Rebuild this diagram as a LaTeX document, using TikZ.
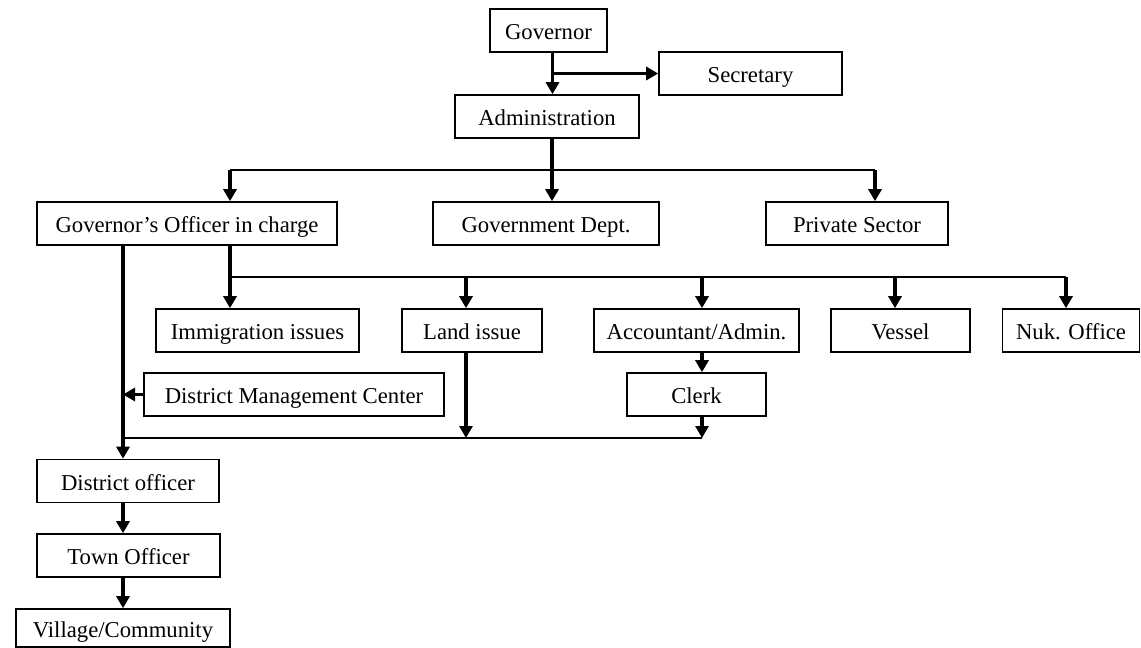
\documentclass[tikz,border=0pt]{standalone}
\usepackage{fontspec}
\setmainfont{Liberation Serif}
\usetikzlibrary{arrows.meta,calc}
\begin{document}
\begin{tikzpicture}[x=1pt,y=-1pt,
  box/.style={draw, line width=1.6pt, minimum height=43pt, inner sep=0pt,
    text height=18pt, text depth=0pt,
    font=\fontsize{22.7}{26}\selectfont},
  arr/.style={line width=3.4pt, -{Triangle[width=13pt,length=12pt]}},
  thinline/.style={line width=1.8pt}]
\useasboundingbox (0,0) rectangle (1141,648);
% nodes
\node[box, minimum width=117pt] (gov) at (548.5,30.5) {Governor};
\node[box, minimum width=183pt] (sec) at (750.5,73.5) {Secretary};
\node[box, minimum width=184pt] (adm) at (547,116.5) {Administration};
\node[box, minimum width=300pt] (goc) at (187,223.5) {Governor’s Officer in charge};
\node[box, minimum width=226pt] (gdept) at (546,223.5) {Government Dept.};
\node[box, minimum width=182pt] (priv) at (857,223.5) {Private Sector};
\node[box, minimum width=203pt] (imm) at (257.5,330.5) {Immigration issues};
\node[box, minimum width=140pt] (land) at (472,330.5) {Land issue};
\node[box, minimum width=205pt] (acct) at (696.5,330.5) {Accountant/Admin.};
\node[box, minimum width=139pt] (vessel) at (900.5,330.5) {Vessel};
\node[box, minimum width=137pt] (nuk) at (1071,330.5) {Nuk. Office};
\node[box, minimum width=139pt] (clerk) at (696.5,394.5) {Clerk};
\node[box, minimum width=300pt] (dmc) at (294,394.5) {District Management Center};
\node[box, minimum width=182pt] (dof) at (128,481) {District officer};
\node[box, minimum width=183pt] (town) at (128.5,555.5) {Town Officer};
\node[box, minimum width=214pt, minimum height=38pt] (vil) at (123,628) {Village/Community};
% junction coordinates
\coordinate (g1) at ([xshift=4pt]gov.south);
\coordinate (a1) at ([xshift=5pt]adm.south);
\coordinate (b1) at (230,170);
\coordinate (b2) at (875,170);
\coordinate (r1) at (230,277);
\coordinate (r2) at (466,277);
\coordinate (r3) at (702,277);
\coordinate (r4) at (895,277);
\coordinate (r5) at (1066,277);
\coordinate (l1) at (123,245);
\coordinate (l2) at (123,438);
\coordinate (l3) at (702,438);
% connectors
\draw[arr] (g1) -- (g1 |- adm.north);
\draw[arr] (g1 |- sec.west) -- (sec.west);
\draw[arr] (a1) -- (a1 |- gdept.north);
\draw[thinline] (b1) -- (b2);
\draw[arr] (b1) -- (b1 |- goc.north);
\draw[arr] (b2) -- (b2 |- priv.north);
\draw[arr] (r1 |- goc.south) -- (r1 |- imm.north);
\draw[thinline] (r1) -- (r5);
\draw[arr] (r2) -- (r2 |- land.north);
\draw[arr] (r3) -- (r3 |- acct.north);
\draw[arr] (r4) -- (r4 |- vessel.north);
\draw[arr] (r5) -- (r5 |- nuk.north);
\draw[arr] (r3 |- acct.south) -- (r3 |- clerk.north);
\draw[arr] (l1 |- goc.south) -- (l1 |- dof.north);
\draw[arr] (dmc.west) -- (l1 |- dmc.west);
\draw[thinline] (l2) -- (l3);
\draw[arr] (r2 |- land.south) -- (r2 |- l2);
\draw[arr] (r3 |- clerk.south) -- (l3);
\draw[arr] (l1 |- dof.south) -- (l1 |- town.north);
\draw[arr] (l1 |- town.south) -- (l1 |- vil.north);
\end{tikzpicture}
\end{document}
